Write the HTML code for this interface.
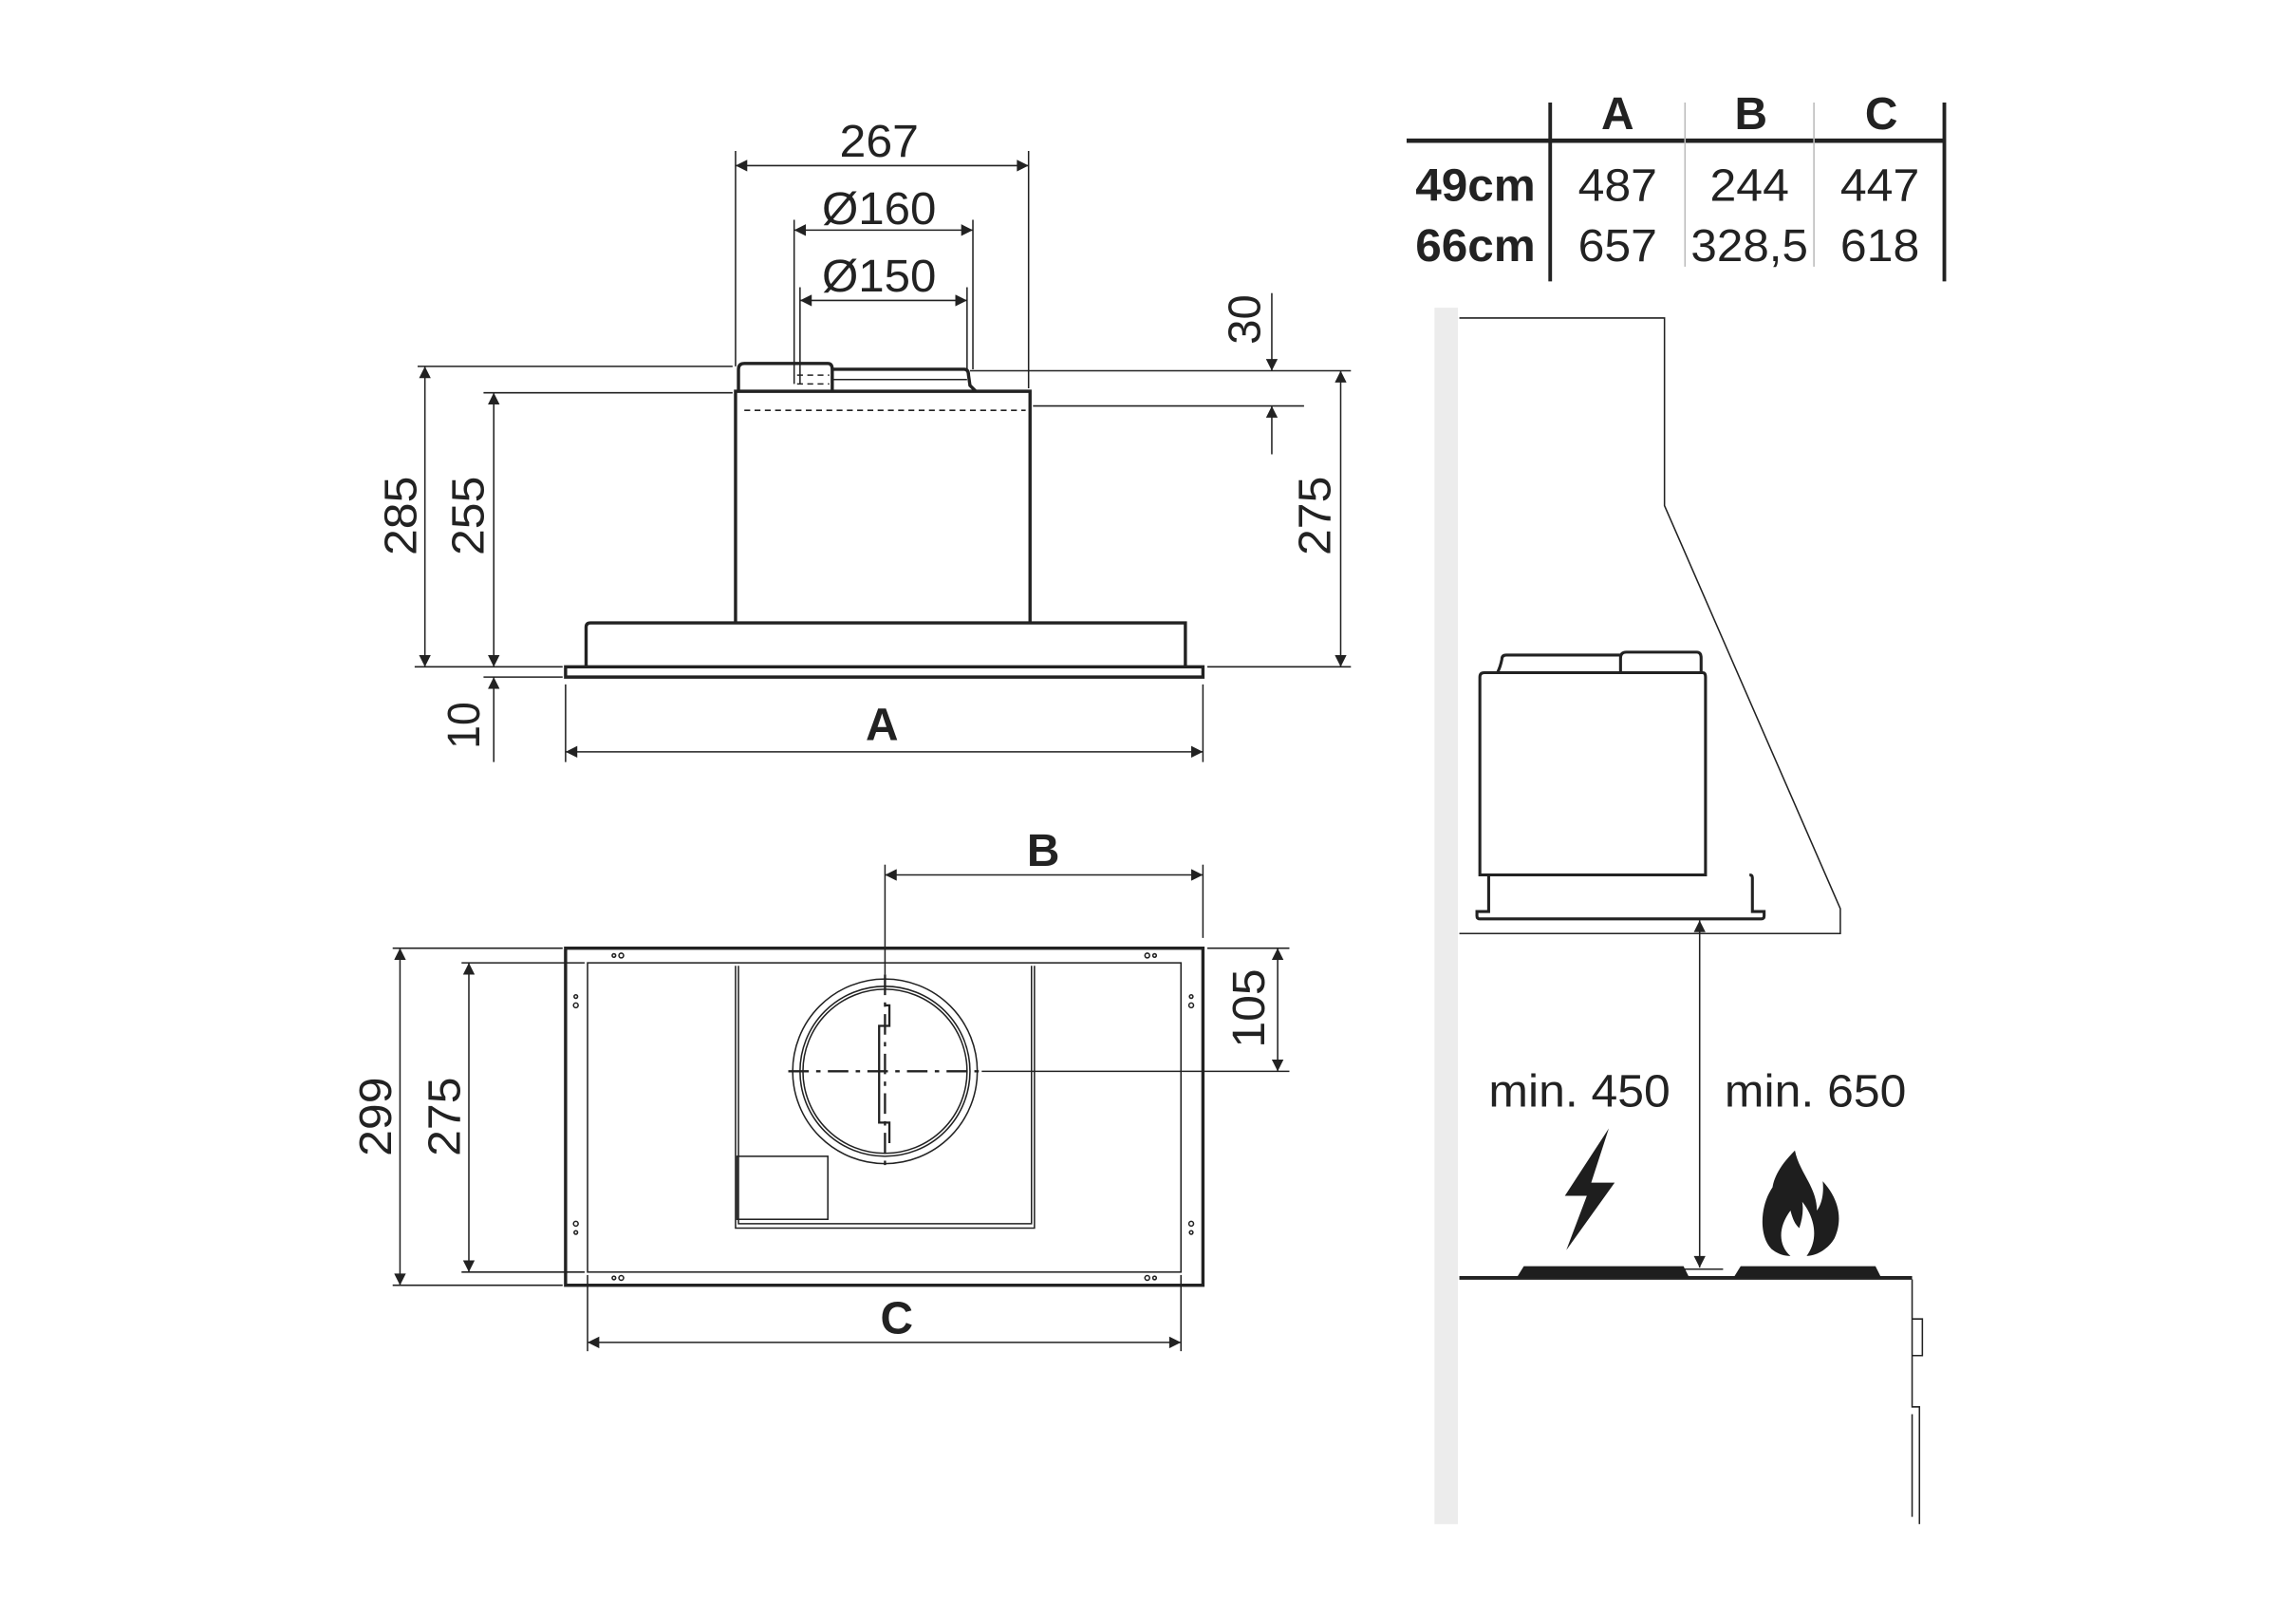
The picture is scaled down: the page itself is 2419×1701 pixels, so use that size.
<!DOCTYPE html>
<html><head><meta charset="utf-8"><style>
html,body{margin:0;padding:0;background:#fff}
svg{display:block}
text{font-family:"Liberation Sans",sans-serif;fill:#222}
.n{font-size:31px}
.b{font-size:31px;font-weight:bold}
</style></head><body>
<svg width="2419" height="1701" viewBox="0 0 1567 1102" preserveAspectRatio="none" xmlns="http://www.w3.org/2000/svg">
<defs>
<marker id="a" viewBox="0 0 10 10" refX="10" refY="5" markerWidth="12" markerHeight="8" markerUnits="userSpaceOnUse" orient="auto-start-reverse"><path d="M0,0 L10,5 L0,10 z" fill="#222"/></marker>
</defs>
<g stroke="#222" fill="none" stroke-width="1">
<line x1="502" y1="103" x2="502" y2="250"/>
<line x1="702" y1="103" x2="702" y2="265"/>
<line x1="542" y1="150" x2="542" y2="262"/>
<line x1="664" y1="150" x2="664" y2="252"/>
<line x1="546" y1="196" x2="546" y2="262"/>
<line x1="660" y1="196" x2="660" y2="252"/>
<line x1="502" y1="113" x2="702" y2="113" marker-start="url(#a)" marker-end="url(#a)"/>
<line x1="542" y1="157" x2="664" y2="157" marker-start="url(#a)" marker-end="url(#a)"/>
<line x1="546" y1="205" x2="660" y2="205" marker-start="url(#a)" marker-end="url(#a)"/>
<g stroke-width="2.2">
<path d="M386,455 H821 V462 H386 Z"/>
<path d="M400,455 V428 Q400,425 403,425 H809 V455"/>
<path d="M502,425 V267 H703 V425"/>
<path d="M504,267 V252 Q504,248 508,248 H565 Q568,248 568,252 V267"/>
<path d="M568,252 H658 Q661,252 661,256 L662,263 L666,267"/>
</g>
<line x1="568" y1="259" x2="660" y2="259"/>
<path d="M544,256 H566 M544,262 H566 M508,280 H700" stroke-dasharray="4,3"/>
<line x1="285" y1="250" x2="500" y2="250"/>
<line x1="283" y1="455" x2="384" y2="455"/>
<line x1="330" y1="268" x2="500" y2="268"/>
<line x1="330" y1="462" x2="384" y2="462"/>
<line x1="290" y1="250" x2="290" y2="455" marker-start="url(#a)" marker-end="url(#a)"/>
<line x1="337" y1="268" x2="337" y2="455" marker-start="url(#a)" marker-end="url(#a)"/>
<line x1="337" y1="462" x2="337" y2="520" marker-start="url(#a)"/>
<line x1="662" y1="253" x2="922" y2="253"/>
<line x1="705" y1="277" x2="890" y2="277"/>
<line x1="824" y1="455" x2="922" y2="455"/>
<line x1="915" y1="253" x2="915" y2="455" marker-start="url(#a)" marker-end="url(#a)"/>
<line x1="868" y1="200" x2="868" y2="253" marker-end="url(#a)"/>
<line x1="868" y1="310" x2="868" y2="277" marker-end="url(#a)"/>
<line x1="386" y1="467" x2="386" y2="520"/>
<line x1="821" y1="467" x2="821" y2="520"/>
<line x1="386" y1="513" x2="821" y2="513" marker-start="url(#a)" marker-end="url(#a)"/>

<rect x="386" y="647" width="435" height="230" stroke-width="2.2"/>
<rect x="401" y="657" width="405" height="211"/>
<path d="M502,659 V838 H706 V659"/>
<path d="M504,659 V835 H704 V659"/>
<rect x="503" y="789" width="62" height="43"/>
<circle cx="604" cy="731" r="63"/>
<circle cx="604" cy="731" r="58"/>
<circle cx="604" cy="731" r="56"/>
<path d="M538,731 H670" stroke-dasharray="14,5,3,5" stroke-width="1.5"/>
<path d="M604,665 V797" stroke-dasharray="14,5,3,5" stroke-width="1.5"/>
<path d="M604,686 H607 V700 H600 V766 H607 V780" stroke-width="1.5"/>
<line x1="670" y1="731" x2="880" y2="731"/>
<g stroke-width="1">
<circle cx="419" cy="652" r="1.2"/><circle cx="424" cy="652" r="1.6"/>
<circle cx="783" cy="652" r="1.6"/><circle cx="788" cy="652" r="1.2"/>
<circle cx="419" cy="872" r="1.2"/><circle cx="424" cy="872" r="1.6"/>
<circle cx="783" cy="872" r="1.6"/><circle cx="788" cy="872" r="1.2"/>
<circle cx="393" cy="680" r="1.2"/><circle cx="393" cy="686" r="1.6"/>
<circle cx="813" cy="680" r="1.2"/><circle cx="813" cy="686" r="1.6"/>
<circle cx="393" cy="835" r="1.6"/><circle cx="393" cy="841" r="1.2"/>
<circle cx="813" cy="835" r="1.6"/><circle cx="813" cy="841" r="1.2"/>
</g>
<line x1="604" y1="590" x2="604" y2="665"/>
<line x1="821" y1="590" x2="821" y2="640"/>
<line x1="604" y1="597" x2="821" y2="597" marker-start="url(#a)" marker-end="url(#a)"/>
<line x1="824" y1="647" x2="880" y2="647"/>
<line x1="872" y1="647" x2="872" y2="731" marker-start="url(#a)" marker-end="url(#a)"/>
<line x1="268" y1="647" x2="384" y2="647"/>
<line x1="268" y1="877" x2="384" y2="877"/>
<line x1="315" y1="657" x2="399" y2="657"/>
<line x1="315" y1="868" x2="399" y2="868"/>
<line x1="273" y1="647" x2="273" y2="877" marker-start="url(#a)" marker-end="url(#a)"/>
<line x1="320" y1="657" x2="320" y2="868" marker-start="url(#a)" marker-end="url(#a)"/>
<line x1="401" y1="870" x2="401" y2="922"/>
<line x1="806" y1="870" x2="806" y2="922"/>
<line x1="401" y1="916" x2="806" y2="916" marker-start="url(#a)" marker-end="url(#a)"/>

<line x1="960" y1="96" x2="1328" y2="96" stroke-width="3"/>
<line x1="1058" y1="70" x2="1058" y2="192" stroke-width="2.5"/>
<line x1="1327" y1="70" x2="1327" y2="192" stroke-width="2.5"/>
<line x1="1150" y1="70" x2="1150" y2="182" stroke="#bbb"/>
<line x1="1238" y1="70" x2="1238" y2="182" stroke="#bbb"/>

<rect x="979" y="210" width="16" height="830" fill="#ececec" stroke="none"/>
<path d="M996,217 H1136 V345 L1256,620 V637 H996"/>
<g stroke-width="2">
<path d="M1010,597 V462 Q1010,459 1013,459 H1162 Q1164,459 1164,462 V597 Z"/>
<path d="M1022,459 Q1024,455 1025,450 Q1025,447 1028,447 H1106"/>
<path d="M1106,459 V449 Q1106,445 1110,445 H1158 Q1161,445 1161,449 V459"/>
<path d="M1016,597 V622 H1008 V625 Q1008,627 1010,627 H1202 Q1204,627 1204,625 V622 H1196 V599 Q1196,597 1194,597"/>
</g>
<line x1="1160" y1="628" x2="1160" y2="865" marker-start="url(#a)" marker-end="url(#a)"/>
<line x1="1143" y1="866" x2="1176" y2="866"/>
<line x1="996" y1="872" x2="1305" y2="872" stroke-width="2.5"/>
<path d="M1305,873 V960 H1310 V1040 M1305,900 H1312 V925 H1305 M1305,965 V1035" stroke-width="1"/>
</g>
<path d="M1035,872 L1040,864 H1149 L1153,872 Z" fill="#1e1e1e"/>
<path d="M1183,872 L1188,864 H1280 L1284,872 Z" fill="#1e1e1e"/>
<path d="M1098,785 L1068,831 L1083,831 L1069,868 L1102,822 L1086,822 Z" fill="#1e1e1e" transform="translate(0,-15)"/>
<path d="M1225,785 C1205,805 1208,818 1214,828 C1210,820 1211,810 1213,806 C1200,820 1200,845 1210,853 C1214,856 1218,857 1222,857 C1214,850 1213,838 1222,826 C1224,834 1226,836 1228,838 C1230,832 1231,826 1230,820 C1238,830 1242,845 1233,857 C1240,857 1248,852 1252,845 C1258,832 1255,818 1244,806 C1245,815 1243,822 1240,826 C1240,810 1228,800 1225,785 Z" fill="#1e1e1e"/>

<g class="n">
<text x="600" y="107" text-anchor="middle" textLength="54" lengthAdjust="spacingAndGlyphs">267</text>
<text x="600" y="153" text-anchor="middle" textLength="78" lengthAdjust="spacingAndGlyphs">Ø160</text>
<text x="600" y="199" text-anchor="middle" textLength="78" lengthAdjust="spacingAndGlyphs">Ø150</text>
<text transform="translate(284,352) rotate(-90)" text-anchor="middle" textLength="54" lengthAdjust="spacingAndGlyphs">285</text>
<text transform="translate(330,352) rotate(-90)" text-anchor="middle" textLength="54" lengthAdjust="spacingAndGlyphs">255</text>
<text transform="translate(327,495) rotate(-90)" text-anchor="middle" textLength="32" lengthAdjust="spacingAndGlyphs">10</text>
<text transform="translate(908,352) rotate(-90)" text-anchor="middle" textLength="54" lengthAdjust="spacingAndGlyphs">275</text>
<text transform="translate(860,218) rotate(-90)" text-anchor="middle" textLength="34" lengthAdjust="spacingAndGlyphs">30</text>
<text transform="translate(863,688) rotate(-90)" text-anchor="middle" textLength="54" lengthAdjust="spacingAndGlyphs">105</text>
<text transform="translate(267,762) rotate(-90)" text-anchor="middle" textLength="54" lengthAdjust="spacingAndGlyphs">299</text>
<text transform="translate(314,762) rotate(-90)" text-anchor="middle" textLength="54" lengthAdjust="spacingAndGlyphs">275</text>
<text x="1078" y="755" text-anchor="middle" textLength="124" lengthAdjust="spacingAndGlyphs">min. 450</text>
<text x="1239" y="755" text-anchor="middle" textLength="124" lengthAdjust="spacingAndGlyphs">min. 650</text>
<text x="1104" y="137" text-anchor="middle" textLength="54" lengthAdjust="spacingAndGlyphs">487</text>
<text x="1194" y="137" text-anchor="middle" textLength="54" lengthAdjust="spacingAndGlyphs">244</text>
<text x="1283" y="137" text-anchor="middle" textLength="54" lengthAdjust="spacingAndGlyphs">447</text>
<text x="1104" y="178" text-anchor="middle" textLength="54" lengthAdjust="spacingAndGlyphs">657</text>
<text x="1194" y="178" text-anchor="middle" textLength="80" lengthAdjust="spacingAndGlyphs">328,5</text>
<text x="1283" y="178" text-anchor="middle" textLength="54" lengthAdjust="spacingAndGlyphs">618</text>
</g>
<g class="b">
<text x="602" y="505" text-anchor="middle">A</text>
<text x="712" y="591" text-anchor="middle">B</text>
<text x="612" y="910" text-anchor="middle">C</text>
<text x="1104" y="88" text-anchor="middle">A</text>
<text x="1195" y="88" text-anchor="middle">B</text>
<text x="1284" y="88" text-anchor="middle">C</text>
<text x="1048" y="137" text-anchor="end" textLength="82" lengthAdjust="spacingAndGlyphs">49cm</text>
<text x="1048" y="178" text-anchor="end" textLength="82" lengthAdjust="spacingAndGlyphs">66cm</text>
</g>
</svg>
</body></html>
